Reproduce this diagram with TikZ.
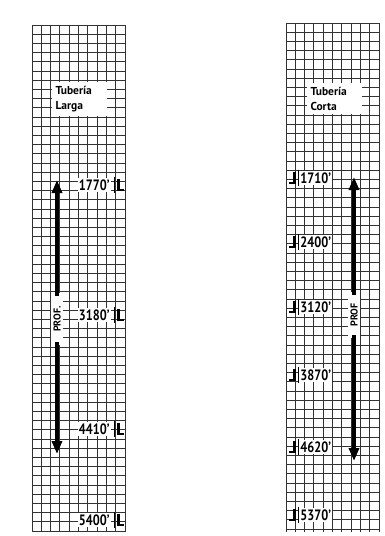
\documentclass[tikz,border=0pt]{standalone}
\usepackage{fontspec}
\setmainfont{PT Sans}
\newfontfamily\narrowfont[FakeStretch=0.82]{PT Sans}
\usetikzlibrary{arrows.meta}
\begin{document}
\begin{tikzpicture}[x=1pt,y=-1pt,
  gridline/.style={black!80,line width=0.85pt},
  depth/.style={fill=white,inner sep=1.2pt,font=\narrowfont\bfseries\fontsize{15}{15}\selectfont},
  titlebox/.style={fill=white,align=left,inner sep=4pt,text width=47pt,
    font=\bfseries\fontsize{11.5}{15}\selectfont},
  bigarrow/.style={line width=3.8pt,-{Triangle[length=13pt,width=10pt]}},
  profbox/.style={fill=white,rotate=90,inner sep=2.5pt,font=\bfseries\fontsize{10}{10}\selectfont},
  tickbar/.style={line width=0.9pt},
  hook/.style={line width=2.2pt}]
\useasboundingbox (0,0) rectangle (385,536);
\fill[white] (0,0) rectangle (385,536);
% grids
\foreach \i in {0,...,10}{
  \draw[gridline] ({32+\i*9.3},25) -- ({32+\i*9.3},532);
  \draw[gridline] ({286+\i*9.3},23) -- ({286+\i*9.3},532);
}
\foreach \j in {0,...,55}{
  \draw[gridline] (32,{25+\j*9.2}) -- (125,{25+\j*9.2});
}
\foreach \j in {0,...,55}{
  \draw[gridline] (286,{23+\j*9.2}) -- (379,{23+\j*9.2});
}
% titles
\node[titlebox] (tl) at (79,99) {Tubería\\Larga};
\node[titlebox] (tc) at (334,98.5) {Tubería\\Corta};
% left depths
\foreach \y/\t [count=\k] in {185/1770,315/3180,429/4410,520/5400}{
  \node[depth,anchor=east] (L\k) at (111,\y) {\t’};
  \draw[tickbar] (114,{\y-8}) -- (114,{\y+8});
  \draw[hook] (118.5,{\y-6}) -- (118.5,{\y+5}) -- (124,{\y+5});
}
% right depths
\foreach \y/\t [count=\k] in {178/1710,242/2400,307/3120,375/3870,447/4620,515/5370}{
  \node[depth,anchor=west] (R\k) at (299,\y) {\t’};
  \draw[tickbar] (298,{\y-8}) -- (298,{\y+8});
  \draw[hook] (294.5,{\y-6}) -- (294.5,{\y+5}) -- (288.5,{\y+5});
}
% left arrow
\coordinate (Ltop) at (57,180);
\coordinate (Lbot) at (57,454);
\node[profbox,minimum width=52pt] (Lprof) at (57,319) {PROF.};
\draw[bigarrow] (Lprof.east) ++(0,3) -- (Ltop);
\draw[bigarrow] (Lprof.west) ++(0,-3) -- (Lbot);
% right arrow
\coordinate (Rtop) at (354,177);
\coordinate (Rbot) at (354,461);
\node[profbox,minimum width=46pt] (Rprof) at (354,315) {PROF};
\draw[bigarrow] (Rprof.east) ++(0,3) -- (Rtop);
\draw[bigarrow] (Rprof.west) ++(0,-3) -- (Rbot);
\end{tikzpicture}
\end{document}
